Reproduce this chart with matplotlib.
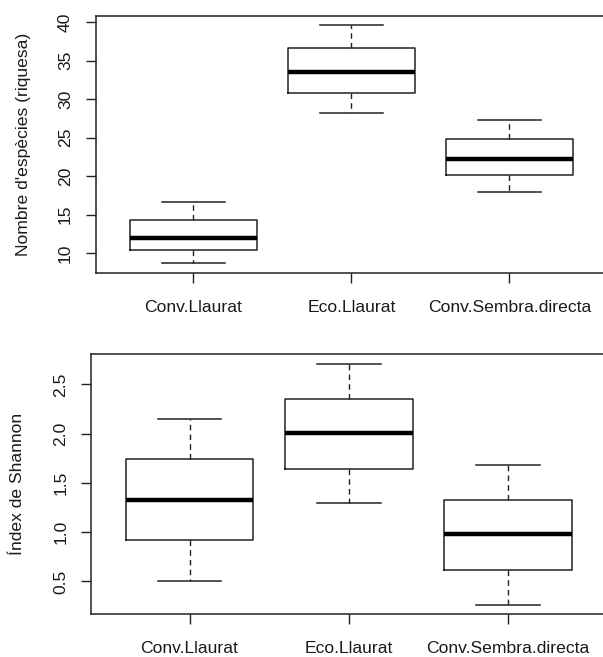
import matplotlib
matplotlib.use('Agg')
import matplotlib.pyplot as plt

plt.rcParams['font.family'] = ['Liberation Sans', 'DejaVu Sans']

# Groups
groups = ['Conv.Llaurat', 'Eco.Llaurat', 'Conv.Sembra.directa']

# Species richness (five-number summaries)
rich_low = [8.65, 28.2, 17.95]
rich_q1 = [10.35, 30.8, 20.2]
rich_med = [11.9, 33.55, 22.25]
rich_q3 = [14.25, 36.6, 24.75]
rich_high = [16.65, 39.55, 27.25]

# Shannon index
shan_low = [0.51, 1.30, 0.265]
shan_q1 = [0.92, 1.645, 0.62]
shan_med = [1.33, 2.01, 0.98]
shan_q3 = [1.74, 2.355, 1.33]
shan_high = [2.15, 2.71, 1.68]

rich_ticks = [10, 15, 20, 25, 30, 35, 40]
shan_ticks = [0.5, 1.0, 1.5, 2.0, 2.5]

FS = 12.6
LINE = '#222222'


def make_stats(low, q1, med, q3, high):
    stats = []
    for i in range(len(groups)):
        stats.append({'whislo': low[i], 'q1': q1[i], 'med': med[i],
                      'q3': q3[i], 'whishi': high[i], 'label': groups[i]})
    return stats


def draw(ax, stats, ticks, ylabel, label_x):
    ax.bxp(stats, positions=[1, 2, 3], widths=0.8, capwidths=0.4,
           showfliers=False,
           boxprops=dict(color=LINE, linewidth=1.1),
           medianprops=dict(color='black', linewidth=3.2, solid_capstyle='butt'),
           whiskerprops=dict(color=LINE, linewidth=1.0, linestyle=(0, (4, 3))),
           capprops=dict(color=LINE, linewidth=1.1))
    lo = min(s['whislo'] for s in stats)
    hi = max(s['whishi'] for s in stats)
    pad = 0.04 * (hi - lo)
    ax.set_ylim(lo - pad, hi + pad)
    ax.set_xlim(0.38, 3.62)
    ax.set_yticks(ticks)
    ax.set_yticklabels([str(t) for t in ticks], rotation=90, va='center')
    ax.set_xticks([1, 2, 3])
    ax.set_xticklabels(groups)
    ax.tick_params(axis='both', length=7.2, width=1.0, color=LINE,
                   labelsize=FS, labelcolor='#1a1a1a')
    ax.tick_params(axis='y', pad=9)
    ax.tick_params(axis='x', pad=12)
    for sp in ax.spines.values():
        sp.set_color(LINE)
        sp.set_linewidth(1.1)
    ax.set_ylabel(ylabel, fontsize=FS, color='#1a1a1a')
    ax.yaxis.set_label_coords(label_x, 0.5)


fig = plt.figure(figsize=(6.03, 6.57), dpi=100)

ax1 = fig.add_axes([0.1584, 0.5845, 0.8488, 0.3912])
draw(ax1, make_stats(rich_low, rich_q1, rich_med, rich_q3, rich_high),
     rich_ticks, "Nombre d'espècies (riquesa)", -0.127)

ax2 = fig.add_axes([0.1506, 0.065, 0.8557, 0.3962])
draw(ax2, make_stats(shan_low, shan_q1, shan_med, shan_q3, shan_high),
     shan_ticks, 'Índex de Shannon', -0.128)

fig.savefig('out.png', dpi=100)
